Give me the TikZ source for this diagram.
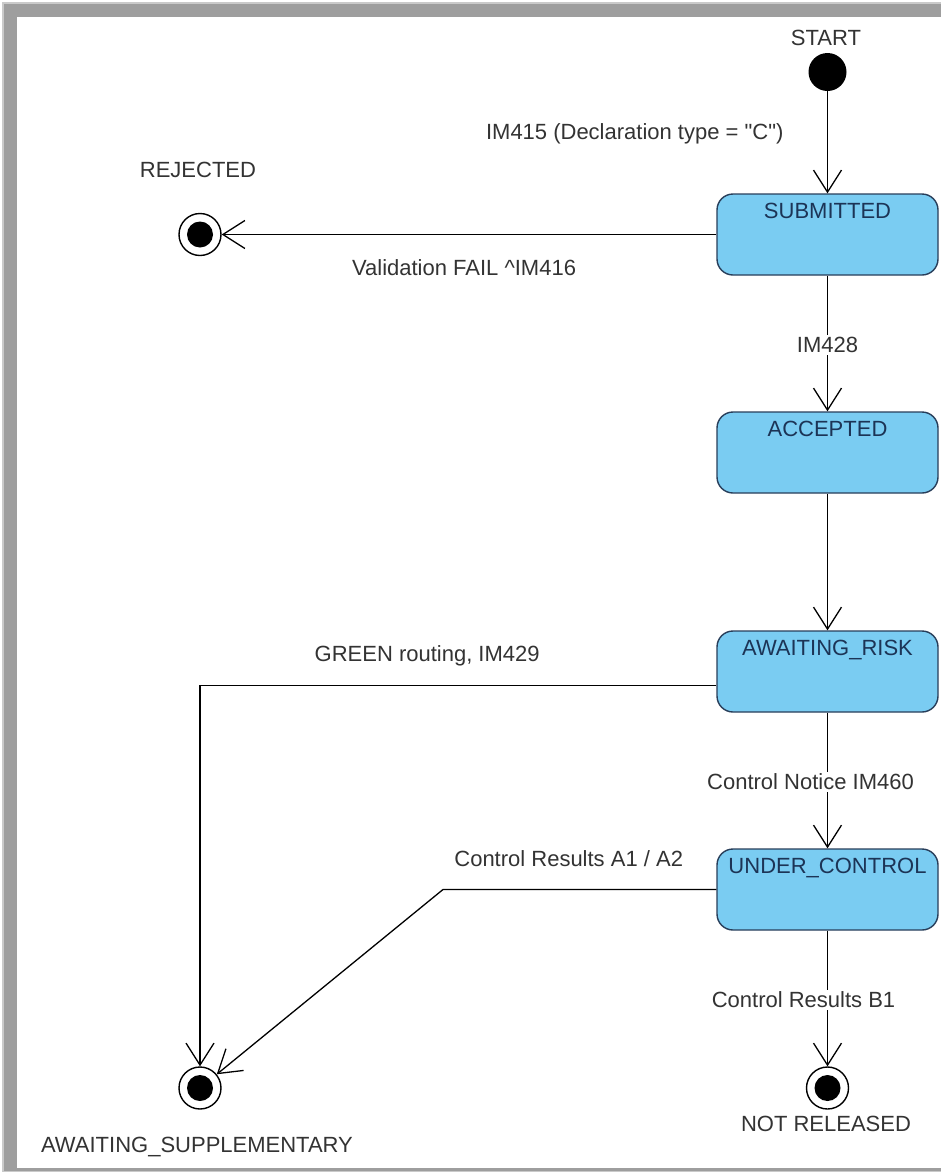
\documentclass[tikz,border=0pt]{standalone}
\usepackage{fontspec}
\setmainfont{Liberation Sans}
\usetikzlibrary{arrows.meta}
\definecolor{statefill}{RGB}{122,204,242}
\definecolor{stateline}{RGB}{40,62,90}
\definecolor{statetext}{RGB}{28,52,86}
\definecolor{labeltext}{RGB}{51,51,51}
\definecolor{frame}{RGB}{158,158,158}

\begin{document}
\begin{tikzpicture}[x=1pt,y=-1pt]
\tikzstyle{every node}=[font=\fontsize{22}{26}\selectfont, text=labeltext]
\tikzstyle{statebox}=[draw=stateline, fill=statefill, line width=1.4pt, rounded corners=16pt, minimum width=221pt, inner xsep=2pt, inner ysep=2pt, text height=22pt, text depth=55pt, text=statetext]
\tikzstyle{initstate}=[circle, fill=black, minimum size=38pt, inner sep=0pt]
\tikzstyle{endstate}=[circle, draw=black, fill=white, line width=1.4pt, minimum size=42pt, inner sep=0pt, path picture={\fill[black] (path picture bounding box.center) circle (13pt);}]
\tikzstyle{trans}=[draw=black, line width=1.3pt, -{Straight Barb[length=22pt,width=28pt]}]
\tikzstyle{lbl}=[fill=white, inner sep=2pt]
\useasboundingbox (0,0) rectangle (941,1173);
% window frame
    \fill[white] (0,0) rectangle (941,1173);
    \fill[frame!55] (2,2) rectangle (941,1172);
    \fill[frame] (4,4) rectangle (941,1171);
    \fill[white] (17,17) rectangle (941,1168);

% states
    \node[initstate] (start) at (827.5,72) {};
    \node (startname) at (826,38) {START};
    \node[statebox] (submitted) at (827.5,234.5) {SUBMITTED};
    \node[statebox] (accepted) at (827.5,452.5) {ACCEPTED};
    \node[statebox] (awaiting) at (827.5,671.5) {AWAITING\_RISK};
    \node[statebox] (under) at (827.5,889.5) {UNDER\_CONTROL};
    \node[endstate] (rejected) at (200,234.5) {};
    \node (rejectedname) at (198,170) {REJECTED};
    \node[endstate] (supp) at (200,1088) {};
    \node (suppname) at (197,1147) {AWAITING\_SUPPLEMENTARY};
    \node[endstate] (notrel) at (827.5,1088) {};
    \node (notrelname) at (826,1124) {NOT RELEASED};

% transitions
    \draw[trans] (start) -- node[pos=0.42, left=40pt] {IM415 (Declaration type = \textquotedbl C\textquotedbl)} (submitted);
    \draw[trans] (submitted.west) -- node[pos=0.51, yshift=-33pt] {Validation FAIL \textasciicircum{}IM416} (rejected);
    \draw[trans] (submitted) -- node[lbl, pos=0.51] {IM428} (accepted);
    \draw[trans] (accepted) -- (awaiting);
    \draw[trans] ([yshift=-14pt]awaiting.west) -| node[pos=0.28, yshift=30pt] {GREEN routing, IM429} (supp);
    \draw[trans] (awaiting) -- node[lbl, pos=0.51, xshift=-17pt] {Control Notice IM460} (under);
    \coordinate (acbend) at (443,889.5);
    \draw[trans] (under.west) -- node[pos=0.54, yshift=31pt] {Control Results A1 / A2} (acbend) -- (supp);
    \draw[trans] (under) -- node[lbl, pos=0.51, xshift=-24pt] {Control Results B1} (notrel);
\end{tikzpicture}
\end{document}
